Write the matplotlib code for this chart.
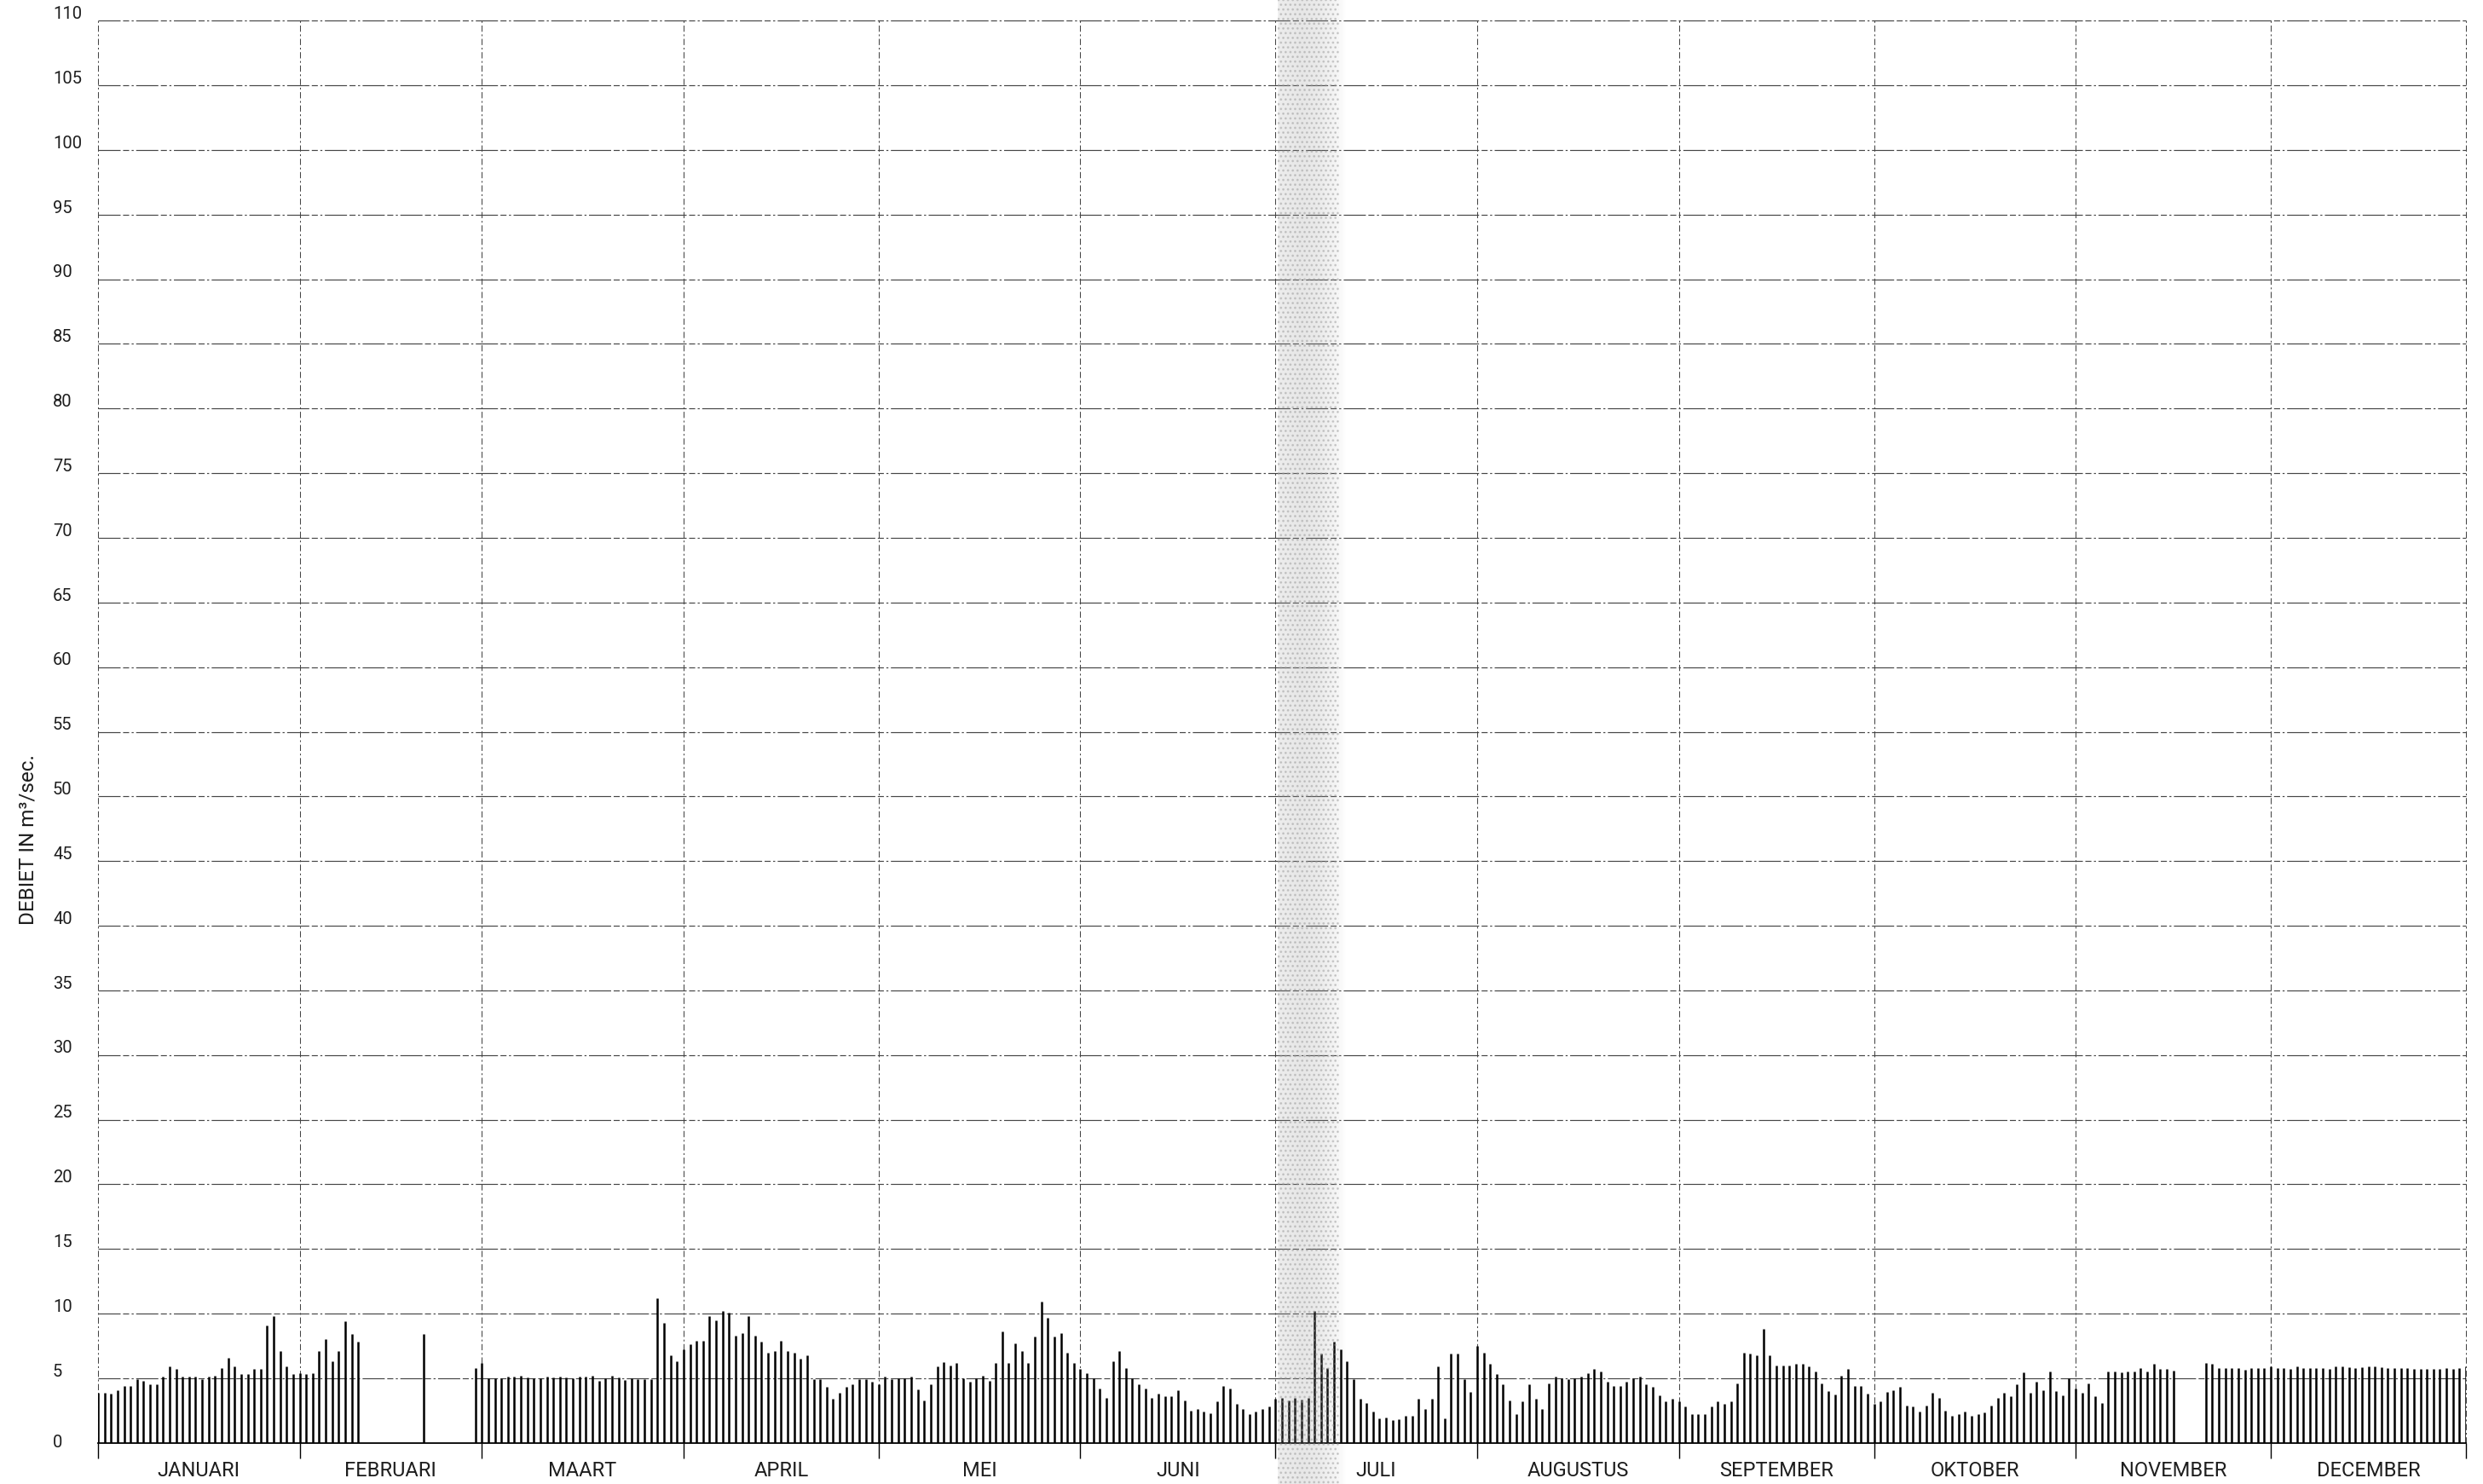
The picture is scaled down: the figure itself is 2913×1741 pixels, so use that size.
import numpy as np
import matplotlib
matplotlib.use('Agg')
import matplotlib.pyplot as plt
from matplotlib import font_manager
from matplotlib.transforms import blended_transform_factory
from matplotlib.patches import Rectangle

nan = np.nan

# ---------------- data (daily discharge, m3/sec) ----------------
month_names = ['JANUARI', 'FEBRUARI', 'MAART', 'APRIL', 'MEI', 'JUNI', 'JULI',
               'AUGUSTUS', 'SEPTEMBER', 'OKTOBER', 'NOVEMBER', 'DECEMBER']

jan = [3.9, 3.9, 3.8, 4.1, 4.4, 4.4, 4.9, 4.8, 4.5, 4.5, 5.1, 5.9, 5.7, 5.1, 5.1, 5.1,
       4.9, 5.1, 5.2, 5.8, 6.6, 5.9, 5.3, 5.3, 5.7, 5.7, 9.1, 9.8, 7.1, 5.9, 5.3]
feb = [5.4, 5.3, 5.4, 7.1, 8.0, 6.3, 7.1, 9.4, 8.4, 7.8,
       nan, nan, nan, nan, nan, nan, nan, nan, nan, 8.4,
       nan, nan, nan, nan, nan, nan, nan, 5.8]
mar = [6.2, 5.0, 5.0, 5.0, 5.1, 5.1, 5.2, 5.05, 5.0, 5.0, 5.1, 5.05, 5.1, 5.05, 5.0, 5.1,
       5.1, 5.2, 4.8, 5.0, 5.2, 5.05, 4.85, 5.0, 4.9, 4.9, 4.9, 11.2, 9.3, 6.8, 6.3]
apr = [7.2, 7.6, 7.9, 7.9, 9.8, 9.45, 10.2, 10.1, 8.3, 8.5, 9.8, 8.3, 7.8, 7.0, 7.1,
       7.9, 7.1, 6.95, 6.5, 6.8, 4.9, 4.9, 4.3, 3.4, 3.9, 4.3, 4.5, 4.9, 4.9, 4.7]
may = [4.5, 5.1, 4.9, 5.0, 5.0, 5.1, 4.15, 3.3, 4.5, 5.9, 6.25, 5.95, 6.15, 5.0, 4.7, 5.0,
       5.2, 4.8, 6.2, 8.6, 6.2, 7.7, 7.1, 6.2, 8.2, 10.9, 9.7, 8.2, 8.5, 7.0, 6.2]
jun = [5.7, 5.4, 5.0, 4.2, 3.5, 6.3, 7.1, 5.8, 5.0, 4.5, 4.2, 3.5, 3.8, 3.6, 3.6,
       4.1, 3.3, 2.5, 2.6, 2.4, 2.3, 3.2, 4.4, 4.2, 3.0, 2.6, 2.2, 2.4, 2.6, 2.8]
jul = [3.4, 3.5, 3.3, 3.5, 3.35, 3.5, 10.2, 6.9, 5.8, 7.8, 7.2, 6.3, 4.9, 3.4, 3.1, 2.4,
       1.9, 1.95, 1.75, 1.85, 2.1, 2.1, 3.4, 2.6, 3.4, 5.9, 1.9, 6.9, 6.9, 4.9, 3.95]
aug = [7.5, 7.0, 6.1, 5.3, 4.5, 3.3, 2.2, 3.2, 4.5, 3.4, 2.6, 4.6, 5.1, 5.0, 4.95, 5.0,
       5.1, 5.4, 5.7, 5.5, 4.7, 4.4, 4.4, 4.7, 5.0, 5.15, 4.5, 4.3, 3.7, 3.2, 3.4]
sep = [3.2, 2.8, 2.2, 2.2, 2.2, 2.8, 3.2, 3.0, 3.2, 4.6, 7.0, 6.9, 6.8, 8.8, 6.8,
       6.0, 6.0, 6.0, 6.1, 6.1, 5.9, 5.5, 4.6, 4.0, 3.75, 5.2, 5.7, 4.4, 4.4, 3.8]
okt = [3.0, 3.2, 3.95, 4.05, 4.3, 2.9, 2.8, 2.4, 2.9, 3.9, 3.45, 2.5, 2.1, 2.2, 2.45, 2.1,
       2.2, 2.35, 2.9, 3.45, 3.9, 3.6, 4.5, 5.45, 3.9, 4.7, 4.05, 5.55, 4.0, 3.7, 5.0]
nov = [4.2, 3.9, 4.6, 3.6, 3.1, 5.55, 5.55, 5.45, 5.5, 5.55, 5.8, 5.55, 6.1, 5.7, 5.7,
       5.6, nan, nan, nan, nan, 6.2, 6.1, 5.8, 5.8, 5.8, 5.8, 5.65, 5.8, 5.8, 5.75]
dec = [5.9, 5.75, 5.75, 5.7, 5.9, 5.75, 5.8, 5.8, 5.75, 5.7, 5.9, 5.9, 5.85, 5.8, 5.85, 5.9,
       5.9, 5.85, 5.8, 5.8, 5.75, 5.75, 5.7, 5.7, 5.7, 5.7, 5.7, 5.8, 5.7, 5.8, 5.9]

y_ticks = list(range(0, 111, 5))
y_label = 'DEBIET IN m\u00b3/sec.'

# ---------------- build ----------------
all_months = [jan, feb, mar, apr, may, jun, jul, aug, sep, okt, nov, dec]
values = np.array(sum(all_months, []), dtype=float)
days = np.arange(len(values))
lengths = [len(m) for m in all_months]
starts = np.concatenate([[0], np.cumsum(lengths)[:-1]])
last = len(values) - 1
bounds = list(starts) + [last]

names = {f.name for f in font_manager.fontManager.ttflist}
fam = 'Roboto' if 'Roboto' in names else 'DejaVu Sans'
plt.rcParams['font.family'] = [fam, 'DejaVu Sans']
plt.rcParams['hatch.linewidth'] = 1.2

W, H = 2913, 1741
fig = plt.figure(figsize=(W / 100, H / 100), dpi=100)
fig.patch.set_facecolor('white')

x0, x1 = 115, 2893
y0, y1 = 1692.7, 24.3
ax = fig.add_axes([x0 / W, 1 - y0 / H, (x1 - x0) / W, (y0 - y1) / H])
ax.set_xlim(0, last)
ax.set_ylim(0, 110)

grid_col = '#454545'
for v in y_ticks[1:]:
    ax.axhline(v, color=grid_col, lw=0.85, ls=(0, (22, 2.5, 6, 2.5, 2, 2.5)),
               zorder=1, clip_on=False)
for b in bounds:
    ax.axvline(b, color=grid_col, lw=0.75, ls=(0, (7, 3, 2, 3)), zorder=1, clip_on=False)

mask = ~np.isnan(values)
ax.vlines(days[mask], 0, values[mask], color='black', lw=1.8, zorder=3)

for s in ['left', 'right', 'top']:
    ax.spines[s].set_visible(False)
ax.spines['bottom'].set_color('black')
ax.spines['bottom'].set_linewidth(1.3)
ax.set_xticks(bounds)
ax.tick_params(axis='x', direction='out', length=13, width=1.0, color='black',
               labelbottom=False)
ax.set_yticks([])
ax.set_facecolor('none')

txt_col = '#1e1e1e'
# y tick labels (left aligned, sitting on their grid lines)
ty = blended_transform_factory(fig.transFigure, ax.transData)
for v in y_ticks:
    if v == 0:
        ax.text(62 / W, v, str(v), transform=ty, ha='left', va='center',
                fontsize=14.5, color=txt_col)
    else:
        ax.text(62 / W, v + 0.15, str(v), transform=ty, ha='left', va='baseline',
                fontsize=14.5, color=txt_col)

# month labels
tx = blended_transform_factory(ax.transData, fig.transFigure)
for i, name in enumerate(month_names):
    c = (bounds[i] + bounds[i + 1]) / 2
    ax.text(c, 1 - 1725 / H, name, transform=tx, ha='center', va='center',
            fontsize=17, color=txt_col)

# y label
fig.text(33 / W, 1 - 985 / H, y_label, rotation=90, ha='center', va='center',
         fontsize=17.5, color=txt_col)

# grey stippled fold band from the scan
bx = fig.add_axes([1499 / W, 0, 80 / W, 1], zorder=10)
bx.axis('off')
bx.patch.set_alpha(0)
xs = np.linspace(0, 1, 200)
alpha = np.interp(xs, [0, 0.02, 0.35, 0.6, 0.85, 1.0], [0.12, 0.18, 0.24, 0.2, 0.1, 0])
img = np.zeros((1, 200, 4))
img[..., :3] = 0.6
img[0, :, 3] = alpha
bx.imshow(img, aspect='auto', extent=(0, 1, 0, 1))
bx.add_patch(Rectangle((0.0, 0), 0.9, 1, facecolor='none', edgecolor='#9a9a9a',
                       hatch='...', lw=0, alpha=0.45))
bx.set_xlim(0, 1)
bx.set_ylim(0, 1)

fig.savefig('out.png', dpi=100, facecolor='white')
